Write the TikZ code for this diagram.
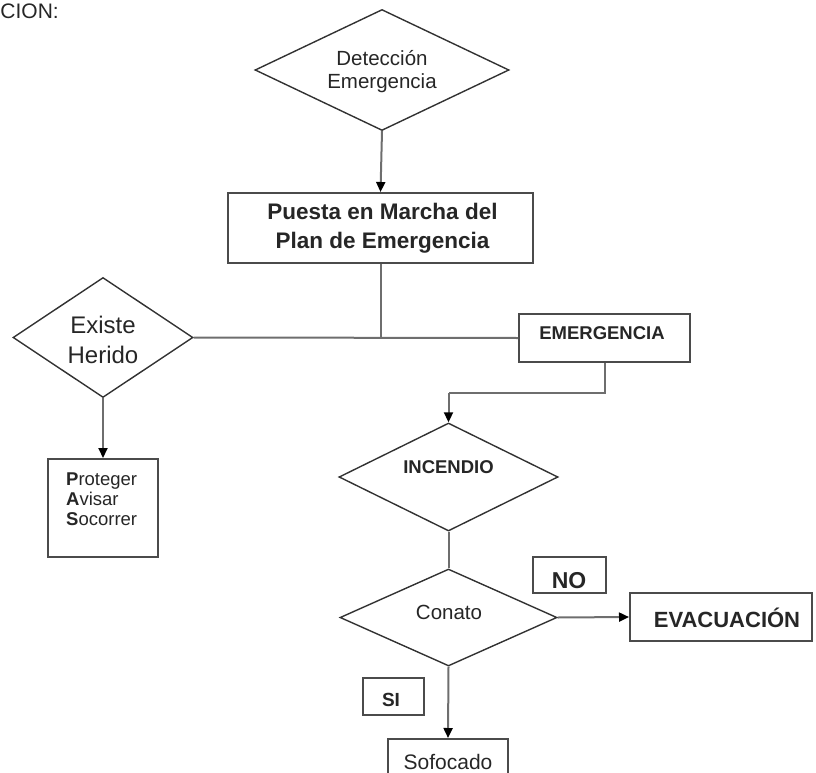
\documentclass[tikz,border=0pt]{standalone}
\usepackage{fontspec}
\setmainfont{Liberation Sans}
\usetikzlibrary{shapes.geometric,arrows.meta}
\definecolor{boxline}{RGB}{75,75,75}
\definecolor{dialine}{RGB}{50,50,50}
\definecolor{conline}{RGB}{110,110,110}
\tikzset{
  boxnode/.style={draw=boxline, line width=2pt, rectangle, inner sep=0pt},
  dianode/.style={draw=dialine, line width=1.4pt, diamond, inner sep=0pt},
  txt/.style={anchor=base, inner sep=0pt, text=black!85},
  conn/.style={draw=conline, line width=2pt},
  arr/.style={conn, -{Triangle[length=10pt,width=9pt,color=black]}}
}
\begin{document}
\begin{tikzpicture}[x=1pt,y=-1pt]
\useasboundingbox (0,0) rectangle (816,773);
% header fragment
\node[txt, anchor=base east] (hdr) at (59,19) {\fontsize{21}{24}\selectfont CION:};
% shapes
\node[dianode, minimum width=254pt, minimum height=121pt] (det) at (382,70) {};
\node[boxnode, minimum width=305pt, minimum height=70pt] (pm) at (380.5,228) {};
\node[dianode, minimum width=180pt, minimum height=120pt] (eh) at (103,337.5) {};
\node[boxnode, minimum width=171pt, minimum height=48pt] (em) at (604.5,338) {};
\node[boxnode, minimum width=110pt, minimum height=98pt] (pas) at (103,508) {};
\node[dianode, minimum width=219pt, minimum height=108pt] (inc) at (448.5,477) {};
\node[dianode, minimum width=217pt, minimum height=97pt] (con) at (448.5,617.5) {};
\node[boxnode, minimum width=73pt, minimum height=36pt] (no) at (569.5,575) {};
\node[boxnode, minimum width=182pt, minimum height=48pt] (evac) at (721,617) {};
\node[boxnode, minimum width=61pt, minimum height=37pt] (si) at (393.5,696.5) {};
\node[boxnode, minimum width=120pt, minimum height=62pt] (sof) at (448,770) {};
% texts
\node[txt] (tdet1) at (382,66) {\fontsize{20.5}{24}\selectfont Detección};
\node[txt] (tdet2) at (382,89) {\fontsize{20.5}{24}\selectfont Emergencia};
\node[txt] (tpm1) at (382.5,219) {\fontsize{22.5}{28}\selectfont\bfseries Puesta en Marcha del};
\node[txt] (tpm2) at (382.5,248) {\fontsize{22.5}{28}\selectfont\bfseries Plan de Emergencia};
\node[txt] (teh1) at (103,333) {\fontsize{24}{28}\selectfont Existe};
\node[txt] (teh2) at (103,363) {\fontsize{24}{28}\selectfont Herido};
\node[txt] (tem) at (602,339) {\fontsize{18.5}{22}\selectfont\bfseries EMERGENCIA};
\node[txt, anchor=base west] (tpas1) at (66,485) {\fontsize{18.5}{20}\selectfont\textbf{P}roteger};
\node[txt, anchor=base west] (tpas2) at (66,505) {\fontsize{18.5}{20}\selectfont\textbf{A}visar};
\node[txt, anchor=base west] (tpas3) at (66,525) {\fontsize{18.5}{20}\selectfont\textbf{S}ocorrer};
\node[txt] (tinc) at (448.5,473) {\fontsize{18.5}{22}\selectfont\bfseries INCENDIO};
\node[txt] (tcon) at (449,619) {\fontsize{20.5}{24}\selectfont Conato};
\node[txt] (tno) at (569,588) {\fontsize{23}{26}\selectfont\bfseries NO};
\node[txt] (tevac) at (727,627) {\fontsize{22}{26}\selectfont\bfseries EVACUACIÓN};
\node[txt] (tsi) at (391,706) {\fontsize{19}{22}\selectfont\bfseries SI};
\node[txt] (tsof) at (448,769) {\fontsize{21}{24}\selectfont Sofocado};
% connectors
\coordinate (j1) at (pm.south |- eh.east);
\coordinate (k1) at ([yshift=-30pt]em.south);
\coordinate (k2) at (k1 -| inc.north);
\draw[arr] (det.south) -- (pm.north);
\draw[conn] (pm.south) -- (j1);
\draw[conn] (eh.east) -- (em.west);
\draw[arr] (eh.south) -- (pas.north);
\draw[conn] (em.south) -- (k1) -- (k2);
\draw[arr] (k2) -- (inc.north);
\draw[conn] (inc.south) -- (con.north);
\draw[arr] (con.east) -- (evac.west);
\draw[arr] (con.south) -- (sof.north);
\end{tikzpicture}
\end{document}
